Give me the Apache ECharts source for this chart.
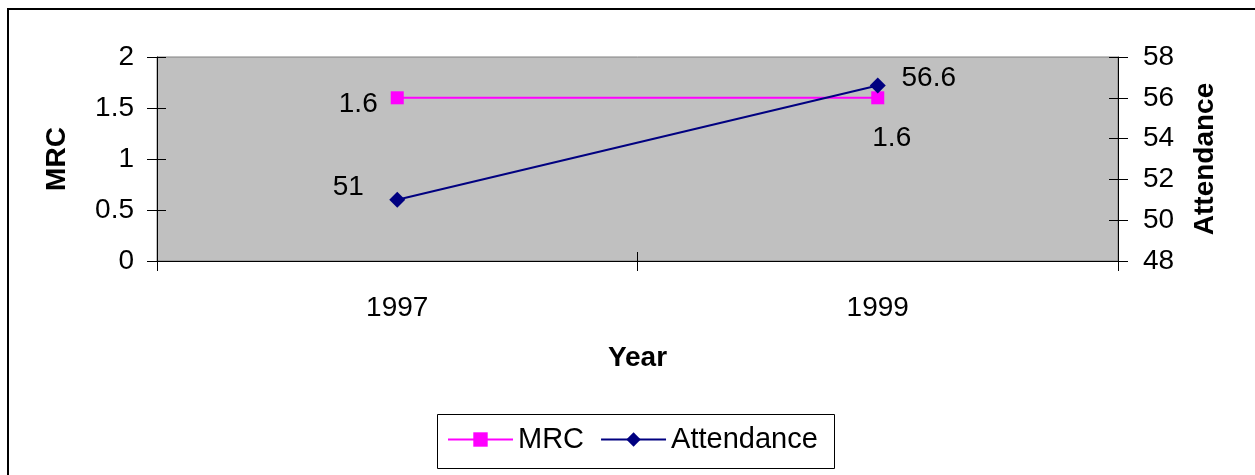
<!DOCTYPE html>
<html>
<head>
<meta charset="utf-8">
<style>
  html, body { margin: 0; padding: 0; background: #ffffff; }
  #chart { width: 1255px; height: 475px; }
</style>
<script src="https://cdn.jsdelivr.net/npm/echarts@6/dist/echarts.min.js"></script>
</head>
<body>
<div id="chart"></div>
<script>
// Years on the category axis
const years = ['1997', '1999'];
// MRC values (left axis)
const mrcValues = [1.6, 1.6];
// Attendance values (right axis)
const attendanceValues = [51, 56.6];
// Left and right axis ranges
const mrcAxis = { min: 0, max: 2, interval: 0.5 };
const attendanceAxis = { min: 48, max: 58, interval: 2 };

// Where each value label sits relative to its marker
const mrcLabelOffsets = [[-39, 6], [14, 40]];
const attendanceLabelOffsets = [[-49, -13], [51, -7]];

const FONT = "'Liberation Sans', Arial, sans-serif";
const chart = echarts.init(document.getElementById('chart'), null, { renderer: 'canvas' });

function withLabels(values, offsets) {
  return values.map((v, i) => ({
    value: v,
    label: { offset: offsets[i] }
  }));
}

const tickStyle = { color: '#000000', width: 1 };
const labelText = { color: '#000000', fontFamily: FONT, fontSize: 28 };

const option = {
  animation: false,
  backgroundColor: '#ffffff',
  textStyle: { fontFamily: FONT },
  grid: {
    left: 157, top: 57, right: 137, bottom: 214,
    show: true, backgroundColor: '#C0C0C0', borderColor: '#808080', borderWidth: 1
  },
  legend: {
    left: 442, top: 420,
    itemWidth: 65, itemHeight: 18, itemGap: 16,
    textStyle: { color: '#000000', fontFamily: FONT, fontSize: 29 },
    data: ['MRC', 'Attendance']
  },
  xAxis: [
    {
      type: 'category', data: years, boundaryGap: true, position: 'bottom',
      name: 'Year', nameLocation: 'middle', nameGap: 83,
      nameTextStyle: { color: '#000000', fontFamily: FONT, fontSize: 28, fontWeight: 'bold' },
      axisLine: { lineStyle: { color: '#000000', width: 1 } },
      axisTick: { show: true, interval: 0, length: 10, lineStyle: tickStyle },
      axisLabel: Object.assign({ margin: 33 }, labelText),
      splitLine: { show: false }
    },
    {
      type: 'category', data: years, boundaryGap: true, position: 'bottom',
      axisLine: { show: false },
      axisTick: { show: true, inside: true, interval: 0, length: 9, lineStyle: tickStyle },
      axisLabel: { show: false }, splitLine: { show: false }
    }
  ],
  yAxis: [
    {
      type: 'value', position: 'left',
      min: mrcAxis.min, max: mrcAxis.max, interval: mrcAxis.interval,
      name: 'MRC', nameLocation: 'middle', nameGap: 86, nameRotate: 90,
      nameTextStyle: { color: '#000000', fontFamily: FONT, fontSize: 28, fontWeight: 'bold' },
      axisLine: { show: true, lineStyle: { color: '#000000', width: 1 } },
      axisTick: { show: true, length: 10, lineStyle: tickStyle },
      axisLabel: Object.assign({ margin: 23 }, labelText),
      splitLine: { show: false }
    },
    {
      type: 'value', position: 'right',
      min: attendanceAxis.min, max: attendanceAxis.max, interval: attendanceAxis.interval,
      name: 'Attendance', nameLocation: 'middle', nameGap: 73, nameRotate: 90,
      nameTextStyle: { color: '#000000', fontFamily: FONT, fontSize: 28, fontWeight: 'bold' },
      axisLine: { show: true, lineStyle: { color: '#000000', width: 1 } },
      axisTick: { show: true, length: 10, lineStyle: tickStyle },
      axisLabel: Object.assign({ margin: 25 }, labelText),
      splitLine: { show: false }
    },
    {
      type: 'value', position: 'left',
      min: mrcAxis.min, max: mrcAxis.max, interval: mrcAxis.interval,
      axisLine: { show: false },
      axisTick: { show: true, inside: true, length: 9, lineStyle: tickStyle },
      axisLabel: { show: false }, splitLine: { show: false }
    },
    {
      type: 'value', position: 'right',
      min: attendanceAxis.min, max: attendanceAxis.max, interval: attendanceAxis.interval,
      axisLine: { show: false },
      axisTick: { show: true, inside: true, length: 9, lineStyle: tickStyle },
      axisLabel: { show: false }, splitLine: { show: false }
    }
  ],
  series: [
    {
      name: 'MRC', type: 'line', xAxisIndex: 0, yAxisIndex: 0,
      data: withLabels(mrcValues, mrcLabelOffsets),
      symbol: 'rect', symbolSize: 13,
      itemStyle: { color: '#FF00FF' },
      lineStyle: { color: '#FF00FF', width: 2 },
      label: Object.assign({ show: true, position: 'inside' }, labelText),
      z: 3
    },
    {
      name: 'Attendance', type: 'line', xAxisIndex: 0, yAxisIndex: 1,
      data: withLabels(attendanceValues, attendanceLabelOffsets),
      symbol: 'diamond', symbolSize: 16,
      itemStyle: { color: '#000080' },
      lineStyle: { color: '#000080', width: 2 },
      label: Object.assign({ show: true, position: 'inside' }, labelText),
      z: 4
    }
  ],
  graphic: [
    {
      type: 'rect', silent: true, z: 100,
      shape: { x: 8, y: 9, width: 1300, height: 500 },
      style: { fill: 'none', stroke: '#000000', lineWidth: 2 }
    },
    {
      type: 'rect', silent: true, z: 100,
      shape: { x: 437.5, y: 414.5, width: 397, height: 54 },
      style: { fill: 'none', stroke: '#000000', lineWidth: 1 }
    }
  ]
};

chart.setOption(option);
</script>
</body>
</html>
